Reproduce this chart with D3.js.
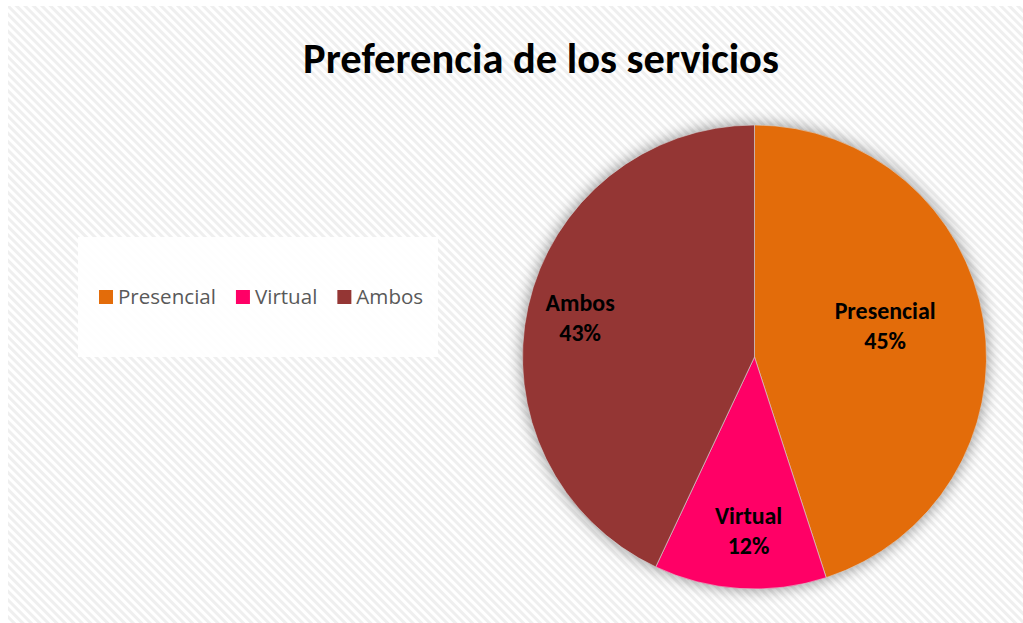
<!DOCTYPE html>
<html>
<head>
<meta charset="utf-8">
<script src="https://cdn.jsdelivr.net/npm/d3@7"></script>
<style>
  html, body { margin: 0; padding: 0; background: #fff; }
  svg { display: block; }
</style>
</head>
<body>
<svg id="chart"></svg>
<script>
// data
let categories = ["Presencial", "Virtual", "Ambos"]
let values = [45, 12, 43]
let percentLabels = ["45%", "12%", "43%"]
let colors = ["#E36C0A", "#FF0066", "#943634"]
let title = "Preferencia de los servicios"

// label placement (fraction of radius + small nudge), like Excel's best fit
let labelRadius = { Presencial: 0.57, Virtual: 0.75, Ambos: 0.77 }
let labelNudge = { Presencial: [0, -10], Virtual: [5, 0], Ambos: [0, 0] }

let width = 1023
let height = 623
let font = "Calibri, Carlito, Lato, 'Open Sans', sans-serif"
let legendFont = "'Segoe UI', 'Open Sans', 'Noto Sans', sans-serif"

let svg = d3.select("#chart")
    .attr("width", width)
    .attr("height", height)

// scale a text's font size so it has the given width
function fitWidth(sel, target) {
    let fs = parseFloat(sel.style("font-size"))
    let w = sel.node().getComputedTextLength()
    return fs * target / w
}

let defs = svg.append("defs")

// diagonal hatch of the chart area
let pattern = defs.append("pattern")
    .attr("id", "hatch")
    .attr("patternUnits", "userSpaceOnUse")
    .attr("width", 6)
    .attr("height", 6)
    .attr("patternTransform", "rotate(-45)")
pattern.append("rect").attr("width", 6).attr("height", 6).attr("fill", "#ffffff")
pattern.append("rect").attr("width", 3).attr("height", 6).attr("fill", "#efefef")

let shadow = defs.append("filter")
    .attr("id", "glow")
    .attr("x", "-20%").attr("y", "-20%")
    .attr("width", "140%").attr("height", "140%")
shadow.append("feGaussianBlur")
    .attr("in", "SourceAlpha")
    .attr("stdDeviation", 8)
    .attr("result", "blur")
shadow.append("feComponentTransfer")
    .append("feFuncA").attr("type", "linear").attr("slope", 0.45)

svg.append("rect")
    .attr("x", 8)
    .attr("y", 6)
    .attr("width", width - 8)
    .attr("height", height - 6)
    .attr("fill", "url(#hatch)")

// title, fitted to the width seen in the picture
let titleText = svg.append("text")
    .attr("x", 541)
    .attr("y", 73)
    .attr("text-anchor", "middle")
    .style("font-family", font)
    .style("font-weight", "bold")
    .style("font-size", "40px")
    .attr("fill", "#000")
    .text(title)
titleText.style("font-size", fitWidth(titleText, 476) + "px")

// legend
let legend = svg.append("g")
legend.append("rect")
    .attr("x", 78)
    .attr("y", 237)
    .attr("width", 360)
    .attr("height", 120)
    .attr("fill", "#ffffff")
    .attr("opacity", 0.9)

let probe = legend.append("text")
    .style("font-family", legendFont)
    .style("font-size", "20px")
    .text(categories[0])
let legendSize = fitWidth(probe, 98)
probe.remove()

let lx = 99
categories.forEach((c, i) => {
    legend.append("rect")
        .attr("x", lx)
        .attr("y", 290)
        .attr("width", 14)
        .attr("height", 14)
        .attr("fill", colors[i])
    let t = legend.append("text")
        .attr("x", lx + 19)
        .attr("y", 304)
        .style("font-family", legendFont)
        .style("font-size", legendSize + "px")
        .attr("fill", "#595959")
        .text(c)
    lx += 19 + t.node().getComputedTextLength() + 20
})

// pie
let cx = 754.5
let cy = 357
let radius = 232

let color = d3.scaleOrdinal()
    .domain(categories)
    .range(colors)

let pie = d3.pie()
    .sort(null)
    .value(d => d.value)

let data = categories.map((c, i) => ({ key: c, value: values[i], label: percentLabels[i] }))
let data_ready = pie(data)

let arcGenerator = d3.arc()
    .innerRadius(0)
    .outerRadius(radius)

let g = svg.append("g")
    .attr("transform", "translate(" + cx + "," + cy + ")")

g.append("circle")
    .attr("r", radius)
    .attr("fill", "#000")
    .attr("filter", "url(#glow)")

g.selectAll("path.slice")
    .data(data_ready)
    .enter()
    .append("path")
    .attr("class", "slice")
    .attr("d", arcGenerator)
    .attr("fill", d => color(d.data.key))
    .attr("stroke", "#d9d9d9")
    .attr("stroke-width", 0.6)

let lprobe = g.append("text")
    .style("font-family", font)
    .style("font-weight", "bold")
    .style("font-size", "20px")
    .text(categories[0])
let labelSize = fitWidth(lprobe, 101)
lprobe.remove()

let labels = g.selectAll("text.lbl")
    .data(data_ready)
    .enter()
    .append("text")
    .attr("class", "lbl")
    .attr("transform", d => {
        let r = radius * labelRadius[d.data.key]
        let p = d3.arc().innerRadius(r).outerRadius(r).centroid(d)
        let n = labelNudge[d.data.key]
        return "translate(" + (p[0] + n[0]) + "," + (p[1] + n[1]) + ")"
    })
    .attr("text-anchor", "middle")
    .style("font-family", font)
    .style("font-weight", "bold")
    .style("font-size", labelSize + "px")
    .attr("fill", "#000")

labels.append("tspan")
    .attr("x", 0)
    .attr("y", -7)
    .text(d => d.data.key)
labels.append("tspan")
    .attr("x", 0)
    .attr("y", 23)
    .text(d => d.data.label)
</script>
</body>
</html>
